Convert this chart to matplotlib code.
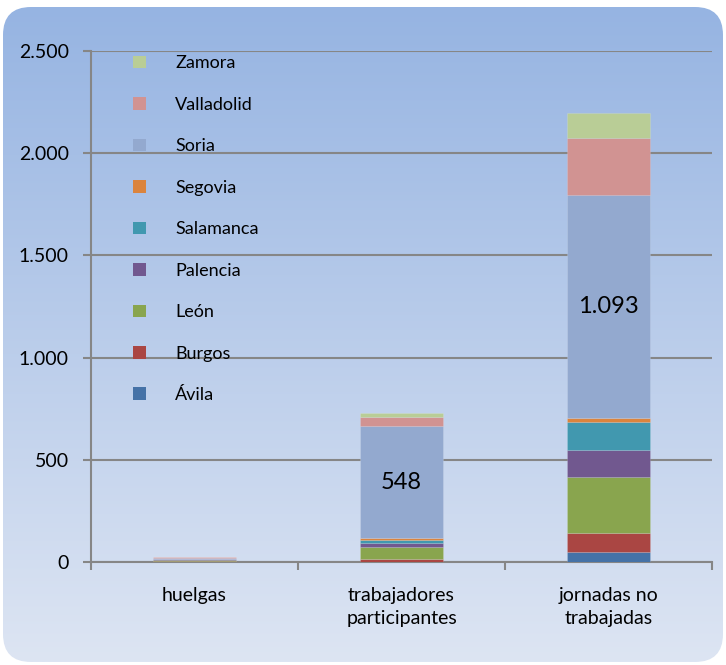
import matplotlib
matplotlib.use("Agg")
import matplotlib.pyplot as plt
import numpy as np
from matplotlib.patches import FancyBboxPatch, Patch
from matplotlib.ticker import FuncFormatter, FixedLocator

plt.rcParams['font.family'] = ['Lato', 'DejaVu Sans']

categories = ["huelgas", "trabajadores\nparticipantes", "jornadas no\ntrabajadas"]
provinces = ["Ávila", "Burgos", "León", "Palencia", "Salamanca", "Segovia", "Soria", "Valladolid", "Zamora"]
avila = [1, 2, 48]
burgos = [2, 15, 94]
leon = [8, 54, 272]
palencia = [2, 21, 132]
salamanca = [2, 17, 140]
segovia = [1, 6, 18]
soria = [5, 548, 1093]
valladolid = [3, 48, 276]
zamora = [2, 19, 124]
series = [avila, burgos, leon, palencia, salamanca, segovia, soria, valladolid, zamora]
colors = ["#4572a7", "#aa4643", "#89a54e", "#71588f", "#4198af", "#db843d", "#93a9cf", "#d19392", "#b9cd96"]
yticks = [0, 500, 1000, 1500, 2000, 2500]

fig = plt.figure(figsize=(7.26, 6.65), dpi=100)

# background rounded gradient
bg = fig.add_axes([0, 0, 1, 1], zorder=-10)
bg.set_xlim(0, 726)
bg.set_ylim(665, 0)
bg.axis('off')
top = np.array([150, 180, 226]) / 255
bot = np.array([221, 229, 243]) / 255
t = np.linspace(0, 1, 256)[:, None]
grad = top[None, :] * (1 - t) + bot[None, :] * t
img = bg.imshow(grad[:, None, :], extent=[3, 723, 662, 7], aspect='auto', interpolation='bilinear')
box = FancyBboxPatch((3, 7), 720, 655, boxstyle="round,pad=0,rounding_size=28",
                     transform=bg.transData, facecolor='none', edgecolor='none')
bg.add_patch(box)
img.set_clip_path(box)

ax = fig.add_axes([91 / 726, 1 - 562 / 665, (712 - 91) / 726, (562 - 51) / 665])
ax.patch.set_alpha(0)

x = np.arange(len(categories))
bottom = np.zeros(len(categories))
for name, vals, c in zip(provinces, series, colors):
    ax.bar(x, vals, 0.4, bottom=bottom, color=c, label=name, zorder=3,
           edgecolor=(1, 1, 1, 0.15), linewidth=0.6)
    if name == "Soria":
        for i in (1, 2):
            ax.text(x[i], bottom[i] + vals[i] / 2, f"{vals[i]:,}".replace(",", "."),
                    ha='center', va='center', fontsize=17, color='black', zorder=5)
    bottom += np.array(vals)

ax.set_xlim(-0.5, 2.5)
ax.set_ylim(0, 2500)
ax.yaxis.set_major_locator(FixedLocator(yticks))
ax.yaxis.set_major_formatter(FuncFormatter(lambda v, p: f"{int(v):,}".replace(",", ".")))
ax.grid(axis='y', color='#868686', linewidth=1.5, zorder=0)
ax.set_axisbelow(True)
ax.set_xticks(x)
ax.set_xticklabels(categories, fontsize=14, linespacing=1.45)
ax.xaxis.set_minor_locator(FixedLocator([-0.5, 0.5, 1.5, 2.5]))
ax.tick_params(axis='x', which='major', length=0, pad=18)
ax.tick_params(axis='x', which='minor', length=6, color='#868686', width=1.5)
ax.tick_params(axis='y', length=6, color='#868686', width=1.5, labelsize=14, pad=10)
for s in ['top', 'right']:
    ax.spines[s].set_visible(False)
for s in ['left', 'bottom']:
    ax.spines[s].set_color('#868686')
    ax.spines[s].set_linewidth(1.5)

handles = [Patch(facecolor=c, edgecolor='none') for c in colors][::-1]
labels = provinces[::-1]
leg = ax.legend(handles, labels, loc='upper left', bbox_to_anchor=(0.048, 1.016), frameon=False,
                fontsize=13, handlelength=0.7, handleheight=0.7, handletextpad=1.6,
                labelspacing=1.41, borderaxespad=0.3)

fig.savefig("out.png", dpi=100)
